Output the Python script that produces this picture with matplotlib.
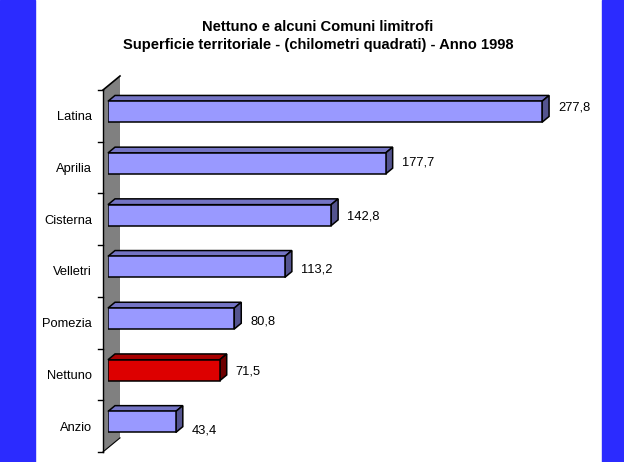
import numpy as np
import matplotlib
matplotlib.use("Agg")
import matplotlib.pyplot as plt
from matplotlib.patches import Rectangle
from matplotlib.transforms import ScaledTranslation

plt.rcParams['font.family'] = ['Liberation Sans', 'DejaVu Sans']

comuni = ["Latina", "Aprilia", "Cisterna", "Velletri", "Pomezia", "Nettuno", "Anzio"]
superficie = [277.8, 177.7, 142.8, 113.2, 80.8, 71.5, 43.4]
etichette = ["277,8", "177,7", "142,8", "113,2", "80,8", "71,5", "43,4"]
evidenza = "Nettuno"

W, H = 624, 462
fig = plt.figure(figsize=(W / 100, H / 100), dpi=100)
fig.patch.set_facecolor("white")

# fasce blu ai lati
blu = "#2b2bff"
fig.add_artist(Rectangle((0, 0), 35 / W, 1, transform=fig.transFigure, color=blu, zorder=0))
fig.add_artist(Rectangle((602 / W, 0), 1 - 602 / W, 1, transform=fig.transFigure, color=blu, zorder=0))

# titolo
fig.text(318 / W, 1 - 30.7 / H, "Nettuno e alcuni Comuni limitrofi",
         ha="center", va="baseline", fontsize=10.6, fontweight="bold")
fig.text(318 / W, 1 - 49 / H, "Superficie territoriale - (chilometri quadrati) - Anno 1998",
         ha="center", va="baseline", fontsize=10.6, fontweight="bold")

# piano frontale delle barre (pixel)
x0, x1 = 108, 108 + 300 * 1.5625
ytop, ybot = 85.9, 85.9 + 7 * 51.7
ax = fig.add_axes([x0 / W, 1 - ybot / H, (x1 - x0) / W, (ybot - ytop) / H])
ax.set_xlim(0, 300)
ax.set_ylim(6.5, -0.5)
ax.patch.set_alpha(0)
for s in ax.spines.values():
    s.set_visible(False)
ax.set_xticks([])

ux = 300 / (x1 - x0)       # unita' per pixel in x
uy = 7 / (ybot - ytop)     # categorie per pixel in y

# parete grigia (profondita' 17 x 14 px, barre tra 5/17 e 12/17)
xf, xb = -5 * ux, 12 * ux
yf0, yf1 = -0.5 + 4.1 * uy, 6.5 + 4.1 * uy
yb0, yb1 = -0.5 - 9.9 * uy, 6.5 - 9.9 * uy
ax.fill([xf, xb, xb, xf], [yf0, yb0, yb1, yf1], color="#808080", lw=0, clip_on=False, zorder=1)
ax.plot([xf, xf], [yf0, yf1], color="black", lw=1, clip_on=False, zorder=2)
ax.plot([xf, xb], [yf0, yb0], color="black", lw=1.2, clip_on=False, zorder=2)
ax.plot([xf, xb], [yf1, yb1], color="black", lw=0.8, clip_on=False, zorder=2)
for k in range(8):
    yk = -0.5 + k + 4.1 * uy
    ax.plot([xf - 5 * ux, xf], [yk, yk], color="black", lw=1, clip_on=False, zorder=2)

# barre 3D
h = 21 / 51.7
dx, dy = 7 * ux, 5.8 * uy
y = np.arange(len(comuni))
fronte = ["#dd0000" if c == evidenza else "#9999ff" for c in comuni]
sopra = ["#a80000" if c == evidenza else "#7474c4" for c in comuni]
lato = ["#6e0000" if c == evidenza else "#54548f" for c in comuni]
ax.barh(y, superficie, height=h, color=fronte, edgecolor="black", lw=1.1, zorder=4)
for i, v in enumerate(superficie):
    t, b = i - h / 2, i + h / 2
    ax.fill([0, v, v + dx, dx], [t, t, t - dy, t - dy], facecolor=sopra[i],
            edgecolor="black", lw=1.1, clip_on=False, zorder=3)
    ax.fill([v, v + dx, v + dx, v], [t, t - dy, b - dy, b], facecolor=lato[i],
            edgecolor="black", lw=1.1, clip_on=False, zorder=3)

# etichette valori
spost = [-4, -1, 1.5, 2.5, 2.5, 1, 9]
for i, v in enumerate(superficie):
    ax.text(v + 16 * ux, i + spost[i] * uy, etichette[i], ha="left", va="center",
            fontsize=9.3, clip_on=False)

# etichette categorie
ax.set_yticks(y, labels=comuni)
ax.tick_params(axis="y", length=0, pad=16 * 0.72, labelsize=9.3)
for lab in ax.get_yticklabels():
    lab.set_transform(lab.get_transform() + ScaledTranslation(0, -4.1 / 100, fig.dpi_scale_trans))

fig.savefig("out.png", dpi=100)
